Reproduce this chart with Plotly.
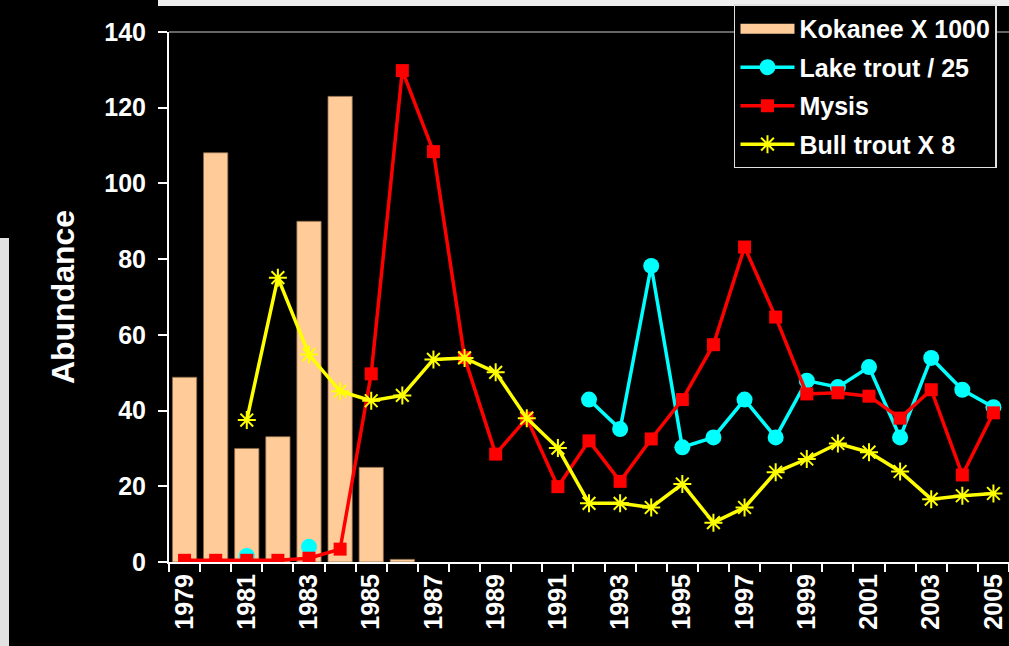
import plotly.graph_objects as go

years = [str(y) for y in range(1979, 2006)]
tick_text = [y if (int(y) - 1979) % 2 == 0 else "" for y in years]

kokanee = [48.8, 108.1, 30.0, 33.1, 90.0, 123.0, 25.0, 0.7] + [None] * 19
lake_trout = [None, None, 1.6, None, 4.0, None, None, None, None, None, None, None, None,
              42.9, 35.1, 78.2, 30.3, 32.9, 42.9, 32.9, 47.9, 46.2, 51.5, 32.9, 53.9, 45.5, 40.9]
mysis = [0.45, 0.45, 0.45, 0.45, 1.0, 3.4, 49.7, 129.8, 108.4, 54.0, 28.5, 38.0, 19.9,
         32.0, 21.3, 32.5, 42.9, 57.4, 83.2, 64.7, 44.4, 44.7, 43.8, 38.0, 45.5, 23.0, 39.4]
bull_trout = [None, None, 37.5, 75.1, 54.8, 45.1, 42.6, 44.0, 53.5, 53.9, 50.1, 38.0, 30.1,
              15.5, 15.5, 14.4, 20.6, 10.4, 14.4, 23.7, 27.2, 31.3, 29.0, 23.9, 16.6, 17.5, 18.1]

FONT = "Liberation Sans, Arial, sans-serif"
BAR_COLOR = "#FFCC99"

fig = go.Figure()
fig.add_trace(go.Bar(
    x=years, y=kokanee, name="Kokanee X 1000",
    marker=dict(color=BAR_COLOR, line=dict(color="#8a6a4a", width=0.8)),
    showlegend=False,
))
# legend entry for the bars (wide swatch like the original)
fig.add_trace(go.Scatter(
    x=[None], y=[None], name="Kokanee X 1000", mode="lines",
    line=dict(color=BAR_COLOR, width=17),
    legendgroup="a", hoverinfo="skip",
))
fig.add_trace(go.Scatter(
    x=years, y=lake_trout, name="Lake trout / 25", mode="lines+markers",
    line=dict(color="#00FFFF", width=3.5),
    marker=dict(symbol="circle", size=16, color="#00FFFF"),
    legendgroup="b",
))
fig.add_trace(go.Scatter(
    x=years, y=mysis, name="Mysis", mode="lines+markers",
    line=dict(color="#FF0000", width=3.5),
    marker=dict(symbol="square", size=13, color="#FF0000"),
    legendgroup="c",
))
fig.add_trace(go.Scatter(
    x=years, y=bull_trout, name="Bull trout X 8", mode="lines+markers",
    line=dict(color="#FFFF00", width=3.5),
    marker=dict(symbol="asterisk-open", size=15, color="#FFFF00",
                line=dict(color="#FFFF00", width=2)),
    legendgroup="d",
))

fig.update_layout(
    width=1009, height=646,
    margin=dict(l=169, r=0, t=32, b=84),
    paper_bgcolor="black", plot_bgcolor="black",
    font=dict(family=FONT, color="white", size=25, weight="bold"),
    bargap=0.22,
    showlegend=True,
    legend=dict(
        x=0.6726, y=1.052, xanchor="left", yanchor="top",
        bgcolor="black", bordercolor="#e0e0e0", borderwidth=1.5,
        font=dict(family=FONT, size=25, color="white", weight="bold"),
        traceorder="grouped", tracegroupgap=3, itemwidth=54,
    ),
    xaxis=dict(
        type="category", tickson="boundaries", range=[-0.5, 26.5],
        tickvals=years, ticktext=tick_text, tickangle=-90,
        ticks="outside", ticklen=8, tickwidth=1.5, tickcolor="white",
        showline=True, linecolor="white", linewidth=2,
        showgrid=False, zeroline=False, automargin=False,
        tickfont=dict(family=FONT, size=25, color="white", weight="bold"),
    ),
    yaxis=dict(
        range=[0, 140], dtick=20,
        ticks="outside", ticklen=9, tickwidth=1.5, tickcolor="white",
        showline=True, linecolor="white", linewidth=2,
        showgrid=False, zeroline=False, automargin=False,
        ticklabelstandoff=7,
        tickfont=dict(family=FONT, size=25, color="white", weight="bold"),
        title=dict(text="Abundance", standoff=20,
                   font=dict(family=FONT, size=32, color="white", weight="bold")),
    ),
    shapes=[
        dict(type="line", xref="paper", yref="paper", x0=0, x1=1, y0=1, y1=1,
             line=dict(color="#cccccc", width=1.2), layer="above"),
        dict(type="rect", xref="paper", yref="paper",
             x0=(158 - 169) / 840, x1=1.0, y0=1 + (32 - 6) / 530, y1=1 + 32 / 530,
             fillcolor="#eeeeee", line=dict(width=0), layer="below"),
        dict(type="rect", xref="paper", yref="paper",
             x0=-169 / 840, x1=(9 - 169) / 840, y0=-84 / 530, y1=1 - (238 - 32) / 530,
             fillcolor="#e2e2e2", line=dict(width=0), layer="below"),
    ],
)

fig.write_html(
    "out.html",
    config={"displayModeBar": False},
    post_script="document.body.style.margin='0';document.body.style.background='black';",
)
